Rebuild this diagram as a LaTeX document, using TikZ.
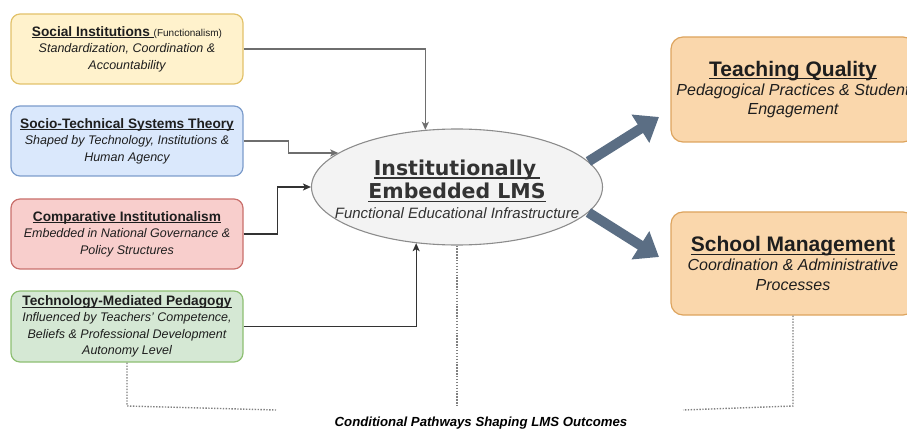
\documentclass[tikz,border=0pt]{standalone}
\usepackage{fontspec}
\setmainfont{Liberation Sans}
\newfontfamily\wideface{DejaVu Sans}
\usetikzlibrary{arrows.meta,shapes.geometric,calc}

\definecolor{yfill}{HTML}{FFF2CC}\definecolor{ydraw}{HTML}{E2C26A}
\definecolor{bfill}{HTML}{DAE8FC}\definecolor{bdraw}{HTML}{7C9CCB}
\definecolor{rfill}{HTML}{F8CECC}\definecolor{rdraw}{HTML}{C9706C}
\definecolor{gfill}{HTML}{D5E8D4}\definecolor{gdraw}{HTML}{8DBF72}
\definecolor{ofill}{HTML}{FAD7AC}\definecolor{odraw}{HTML}{DDA45E}
\definecolor{efill}{HTML}{F3F3F3}\definecolor{edraw}{HTML}{8C8C8C}
\definecolor{fatc}{HTML}{5B6E84}
\definecolor{txtc}{HTML}{1E1E1E}
\definecolor{lightconn}{HTML}{6E6E6E}
\definecolor{darkconn}{HTML}{333333}
\definecolor{dotc}{HTML}{808080}

% underlined heading: a rule of given thickness set just below the baseline
\newsavebox\hdbox
\newcommand\hd[2][0.9pt]{\sbox\hdbox{#2}\rlap{\rule[-0.15em]{\wd\hdbox}{#1}}\usebox\hdbox}
\newcommand\boxtitle[1]{{\upshape\bfseries\fontsize{13.7}{16.5}\selectfont\hd{#1}}}

\tikzset{
  theory/.style={rounded corners=9pt, line width=1.2pt, minimum width=232pt,
    minimum height=70pt, inner sep=0pt, align=center, text=txtc,
    font=\fontsize{12.5}{16.5}\selectfont\itshape},
  outcome/.style={rounded corners=12pt, line width=1.2pt, fill=ofill, draw=odraw,
    minimum width=244pt, inner sep=0pt, align=center, text=txtc,
    font=\fontsize{16}{19.5}\selectfont\itshape},
  conn/.style={line width=1.3pt, -{Stealth[length=8pt,width=7pt,inset=2pt]}},
  fat/.style={line width=10pt, color=fatc, -{Triangle[length=22pt,width=32pt]}},
  dots/.style={line width=1.4pt, color=dotc, dash pattern=on 1.4pt off 1.5pt},
}

\begin{document}
\begin{tikzpicture}[x=1pt,y=-1pt]
\useasboundingbox (0,0) rectangle (907,430);
\clip (0,0) rectangle (907,430);

% theoretical lenses
\node[theory, fill=yfill, draw=ydraw] (b1) at (127,49)
  {\boxtitle{Social Institutions\ }{\upshape\fontsize{10}{12}\selectfont(Functionalism)}\\
   Standardization, Coordination \&\\ Accountability};
\node[theory, fill=bfill, draw=bdraw] (b2) at (127,141)
  {\boxtitle{Socio-Technical Systems Theory}\\
   Shaped by Technology, Institutions \&\\ Human Agency};
\node[theory, fill=rfill, draw=rdraw] (b3) at (127,234)
  {\boxtitle{Comparative Institutionalism}\\
   Embedded in National Governance \&\\ Policy Structures};
\node[theory, fill=gfill, draw=gdraw, minimum height=71pt] (b4) at (127,326.5)
  {\boxtitle{Technology-Mediated Pedagogy}\\
   Influenced by Teachers' Competence,\\ Beliefs \& Professional Development\\ Autonomy Level};

% central LMS: the shape, then its lettering on top
\node[ellipse, fill=efill, draw=edraw, line width=1.1pt, minimum width=291pt,
      minimum height=116pt, inner sep=0pt] (ell) at (457,187) {};
\node[align=center, inner sep=0pt, text=black!80,
      font=\wideface\bfseries\fontsize{20.5}{23.5}\selectfont] (elltxt) at (457,189.5)
  {\hd[1.3pt]{Institutionally\hspace{4pt}}\\ \hd[1.3pt]{Embedded LMS}\\[-3.5pt]
   {\normalfont\itshape\fontsize{15}{20}\selectfont Functional Educational Infrastructure}};

% outcomes
\node[outcome, minimum height=105pt] (tq) at (793,89.5)
  {{\upshape\bfseries\fontsize{21}{24}\selectfont\hd[1.1pt]{Teaching Quality}}\\[-0.5pt]
   Pedagogical Practices \& Student\\ Engagement};
\node[outcome, minimum height=103pt] (sm) at (793,263.5)
  {{\upshape\bfseries\fontsize{21}{24}\selectfont\hd[1.1pt]{School Management}}\\[-0.5pt]
   Coordination \& Administrative\\ Processes};

% connectors into the LMS
\draw[conn, lightconn] (b1.east) -| (ell.119);
\draw[conn, lightconn] (b2.east) -- ++(45,0) |- (ell.164);
\draw[conn, darkconn] (b3.east) -- ++(34,0) |- (ell.west);
\draw[conn, darkconn] (b4.east) -| (ell.-126);

% outcome arrows
\coordinate (tqtip) at (659,117);
\coordinate (smtip) at (659,257);
\draw[fat] (ell.11) -- (tqtip);
\draw[fat] (ell.-11) -- (smtip);

% conditional pathways
\coordinate (dlc) at (127,406);
\coordinate (dle) at (276,410);
\coordinate (dm) at (457,407);
\coordinate (drc) at (793,406);
\coordinate (dre) at (683,410);
\draw[dots] (b4.south) -- (dlc) -- (dle);
\draw[dots] (ell.south) -- (dm);
\draw[dots] (sm.south) -- (drc) -- (dre);

\node[font=\bfseries\itshape\fontsize{13.2}{15}\selectfont, text=black, inner sep=0pt, anchor=base] (cond) at (481,426)
  {Conditional Pathways Shaping LMS Outcomes};
\end{tikzpicture}
\end{document}
